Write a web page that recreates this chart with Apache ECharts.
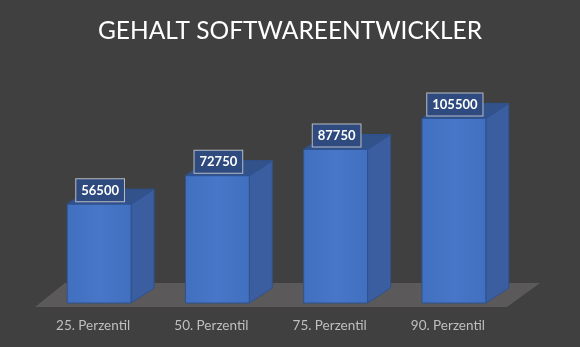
<!DOCTYPE html>
<html><head><meta charset="utf-8">
<script src="https://cdn.jsdelivr.net/npm/echarts@6/dist/echarts.min.js"></script>
<style>html,body{margin:0;padding:0;background:#404040;}#c{width:580px;height:347px;}</style>
</head><body><div id="c"></div>
<script>
const titleText = 'GEHALT SOFTWAREENTWICKLER';
const categories = ['25. Perzentil', '50. Perzentil', '75. Perzentil', '90. Perzentil'];
const salaries = [56500, 72750, 87750, 105500];

const chart = echarts.init(document.getElementById('c'), null, {renderer: 'canvas'});
const DX = 23, DY = -15;

function renderBar(params, api) {
  const i = api.value(0), v = api.value(1);
  const top = api.coord([i, v]);
  const base = api.coord([i, 0]);
  const w = api.size([1, 0])[0] * 0.54;
  const x0 = top[0] - w / 2, x1 = top[0] + w / 2, yT = top[1], yB = base[1];
  const stroke = '#2f528f';
  return {
    type: 'group',
    children: [
      {type: 'polygon', shape: {points: [[x1, yT], [x1 + DX, yT + DY], [x1 + DX, yB + DY], [x1, yB]]},
       style: {fill: '#3a5e9f', stroke: stroke, lineWidth: 1}},
      {type: 'polygon', shape: {points: [[x0, yT], [x0 + DX, yT + DY], [x1 + DX, yT + DY], [x1, yT]]},
       style: {fill: '#32528c', stroke: stroke, lineWidth: 1}},
      {type: 'rect', shape: {x: x0, y: yT, width: w, height: yB - yT},
       style: {fill: new echarts.graphic.LinearGradient(0, 0, 1, 0, [
         {offset: 0, color: '#4170c0'}, {offset: 0.5, color: '#4876c8'}, {offset: 1, color: '#4170c0'}]),
         stroke: stroke, lineWidth: 1}},
      {type: 'text', x: top[0] + 1, y: yT - 3, z2: 10,
       style: {text: String(v), fill: '#ffffff', font: 'bold 13px Lato, "Open Sans", sans-serif',
         align: 'center', verticalAlign: 'bottom',
         backgroundColor: '#2f4a7e', borderColor: '#b8bcc4', borderWidth: 1, padding: [5, 5, 4, 5]}}
    ]
  };
}

function renderFloor(params, api) {
  const cs = params.coordSys;
  const yF = cs.y + cs.height + 4;
  const yBk = cs.y + cs.height - 20;
  const xl = cs.x - 5, xr = cs.x + cs.width - 6;
  return {
    type: 'polygon',
    shape: {points: [[xl, yF], [xr, yF], [xr + 33, yBk], [xl + 30, yBk]]},
    style: {fill: '#5b5959'}
  };
}

chart.setOption({
  backgroundColor: '#404040',
  animation: false,
  title: {
    text: titleText, left: 'center', top: 14,
    textStyle: {color: '#ffffff', fontSize: 24.5, fontWeight: 'normal', fontFamily: 'Lato, "Open Sans", sans-serif'}
  },
  grid: {left: 40, right: 67, top: 93, bottom: 44},
  xAxis: {
    type: 'category', data: categories,
    axisLine: {show: false}, axisTick: {show: false},
    axisLabel: {color: '#bfbfbf', fontSize: 13.5, fontFamily: 'Lato, "Open Sans", sans-serif', margin: 16, padding: [0, 12, 0, 0]}
  },
  yAxis: {type: 'value', min: 0, max: 120000, show: false, splitLine: {show: false}},
  series: [
    {type: 'custom', renderItem: renderFloor, data: [[0, 0]], z: 1, silent: true},
    {type: 'custom', renderItem: renderBar, data: salaries.map((v, i) => [i, v]), z: 2}
  ]
});
</script></body></html>
